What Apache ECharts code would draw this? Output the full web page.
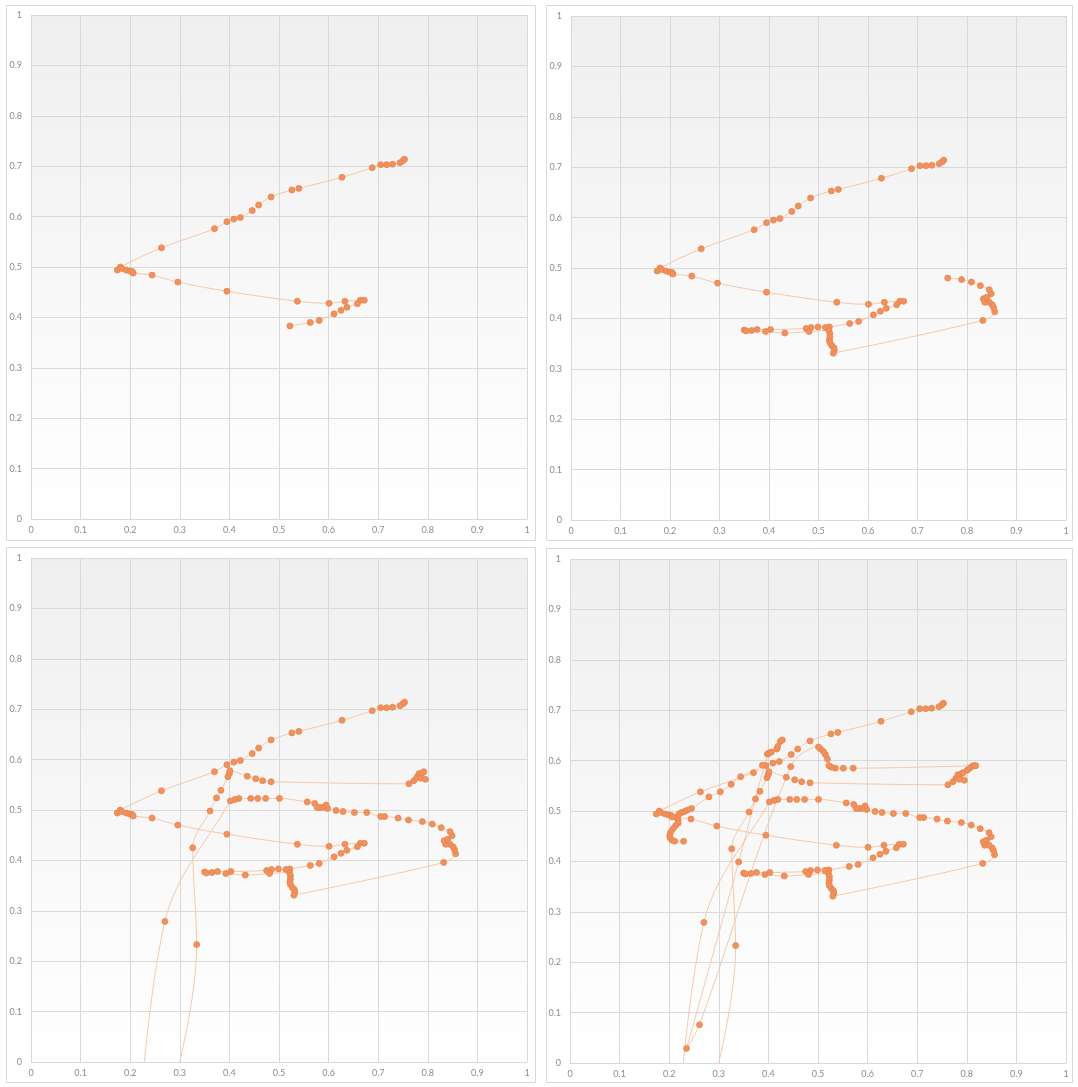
<!DOCTYPE html>
<html>
<head>
<meta charset="utf-8">
<script src="https://cdn.jsdelivr.net/npm/echarts@6/dist/echarts.min.js"></script>
<style>
  html, body { margin: 0; padding: 0; background: #ffffff; }
  #chart { width: 1078px; height: 1087px; }
</style>
</head>
<body>
<div id="chart"></div>
<script>
// Trajectory, recorded in four stages. Each panel shows the path up to the end of one stage.
const stage1 = [
  [0.753, 0.714], [0.750, 0.711], [0.744, 0.707], [0.729, 0.704], [0.717, 0.703], [0.705, 0.703],
  [0.688, 0.697], [0.627, 0.678], [0.540, 0.656], [0.526, 0.653], [0.484, 0.639], [0.459, 0.623],
  [0.446, 0.612], [0.422, 0.598], [0.409, 0.595], [0.395, 0.590], [0.370, 0.576], [0.263, 0.538],
  [0.180, 0.500], [0.174, 0.494], [0.183, 0.497], [0.192, 0.494], [0.199, 0.492], [0.204, 0.491],
  [0.206, 0.488], [0.244, 0.484], [0.296, 0.470], [0.395, 0.452], [0.537, 0.432], [0.601, 0.428],
  [0.633, 0.432], [0.664, 0.434], [0.672, 0.434], [0.658, 0.427], [0.637, 0.420], [0.625, 0.414],
  [0.611, 0.407], [0.581, 0.394], [0.563, 0.390], [0.522, 0.383]
];

const stage2 = [
  [0.514, 0.382], [0.499, 0.383], [0.485, 0.382], [0.475, 0.380], [0.403, 0.378], [0.376, 0.378],
  [0.365, 0.376], [0.350, 0.377], [0.354, 0.375], [0.393, 0.374], [0.432, 0.371], [0.481, 0.374],
  [0.521, 0.376], [0.523, 0.370], [0.523, 0.363], [0.522, 0.357], [0.523, 0.352], [0.527, 0.346],
  [0.531, 0.342], [0.532, 0.337], [0.530, 0.331], [0.832, 0.396], [0.856, 0.413], [0.854, 0.421],
  [0.851, 0.427], [0.845, 0.432], [0.836, 0.432], [0.833, 0.439], [0.840, 0.442], [0.849, 0.449],
  [0.845, 0.457], [0.827, 0.465], [0.809, 0.472], [0.789, 0.477], [0.761, 0.480]
];

// one point of this stage lies below the axis range; its curve leaves and re-enters the plot
const stage3 = [
  [0.740, 0.484], [0.713, 0.487], [0.705, 0.487], [0.677, 0.495], [0.652, 0.495], [0.629, 0.497],
  [0.615, 0.499], [0.598, 0.503], [0.595, 0.510], [0.588, 0.505], [0.582, 0.505], [0.577, 0.505],
  [0.572, 0.513], [0.557, 0.516], [0.501, 0.523], [0.473, 0.523], [0.457, 0.523], [0.443, 0.523],
  [0.419, 0.523], [0.411, 0.521], [0.402, 0.518], [0.270, 0.279], [0.205, -0.320], [0.334, 0.233],
  [0.326, 0.425], [0.361, 0.498], [0.374, 0.524], [0.383, 0.539], [0.397, 0.566], [0.400, 0.573],
  [0.401, 0.578], [0.436, 0.567], [0.453, 0.562], [0.467, 0.558], [0.484, 0.556], [0.762, 0.552],
  [0.772, 0.558], [0.778, 0.565], [0.782, 0.572], [0.788, 0.573], [0.792, 0.576], [0.785, 0.563],
  [0.795, 0.561]
];

const stage4 = [
  [0.801, 0.581], [0.806, 0.585], [0.811, 0.589], [0.815, 0.590], [0.818, 0.590], [0.571, 0.585],
  [0.551, 0.585], [0.535, 0.585], [0.527, 0.587], [0.522, 0.590], [0.519, 0.603], [0.515, 0.612],
  [0.511, 0.618], [0.505, 0.623], [0.501, 0.627], [0.445, 0.588], [0.261, 0.076], [0.235, 0.029],
  [0.340, 0.399], [0.398, 0.613], [0.401, 0.615], [0.406, 0.617], [0.417, 0.623], [0.419, 0.628],
  [0.424, 0.638], [0.428, 0.641], [0.388, 0.591], [0.344, 0.568], [0.325, 0.553], [0.303, 0.538],
  [0.280, 0.528], [0.245, 0.505], [0.237, 0.502], [0.231, 0.499], [0.225, 0.497], [0.221, 0.495],
  [0.218, 0.491], [0.216, 0.486], [0.218, 0.481], [0.218, 0.476], [0.213, 0.471], [0.208, 0.465],
  [0.203, 0.458], [0.201, 0.451], [0.202, 0.446], [0.206, 0.442], [0.211, 0.440], [0.229, 0.440]
];

const stages = [stage1, stage2, stage3, stage4];

// axis range shared by every panel
const axisMin = 0;
const axisMax = 1;
const axisStep = 0.1;

// plot areas and surrounding frames of the 2x2 layout
const plotBoxes = [
  { left: 31, top: 15, width: 496, height: 504 },
  { left: 571, top: 16, width: 495, height: 504 },
  { left: 31, top: 558, width: 496, height: 504 },
  { left: 570, top: 559, width: 496, height: 504 }
];
const frames = [
  { x: 6.5, y: 5.5, w: 529, h: 535 },
  { x: 546.5, y: 5.5, w: 526, h: 535 },
  { x: 6.5, y: 547.5, w: 529, h: 535 },
  { x: 546.5, y: 548.5, w: 526, h: 534 }
];

const labelFont = 'Lato, "Open Sans", sans-serif';
const gridColor = '#d9d9d9';
const labelColor = '#8c8c8c';

const plotFill = {
  type: 'linear', x: 0, y: 0, x2: 0, y2: 1,
  colorStops: [
    { offset: 0, color: '#efefef' },
    { offset: 1, color: '#ffffff' }
  ]
};

const grids = plotBoxes.map(b => ({
  left: b.left, top: b.top, width: b.width, height: b.height,
  show: true, backgroundColor: plotFill, borderWidth: 0, containLabel: false
}));

function makeAxis(i, isX) {
  return {
    type: 'value', gridIndex: i,
    min: axisMin, max: axisMax, interval: axisStep,
    axisLine: { show: isX, lineStyle: { color: gridColor, width: 1 } },
    axisTick: { show: false },
    axisLabel: {
      fontSize: 9, color: labelColor, fontFamily: labelFont,
      margin: isX ? 7 : 9
    },
    splitLine: { show: true, lineStyle: { color: gridColor, width: 1 } }
  };
}

const series = stages.map((_, i) => ({
  type: 'line',
  xAxisIndex: i, yAxisIndex: i,
  data: stages.slice(0, i + 1).flat(),
  smooth: 0.35,
  clip: true,
  symbol: 'circle',
  symbolSize: 6,
  showSymbol: true,
  lineStyle: { color: '#f6c8a9', width: 1 },
  itemStyle: { color: '#f0925f', borderColor: '#e8844a', borderWidth: 0.8 },
  emphasis: { disabled: true },
  silent: true,
  z: 3
}));

const chart = echarts.init(document.getElementById('chart'), null, { renderer: 'canvas' });
chart.setOption({
  animation: false,
  backgroundColor: '#ffffff',
  grid: grids,
  xAxis: plotBoxes.map((_, i) => makeAxis(i, true)),
  yAxis: plotBoxes.map((_, i) => makeAxis(i, false)),
  series: series,
  graphic: frames.map(f => ({
    type: 'rect', silent: true, z: 100,
    shape: { x: f.x, y: f.y, width: f.w, height: f.h },
    style: { fill: 'none', stroke: gridColor, lineWidth: 1 }
  }))
});
</script>
</body>
</html>
